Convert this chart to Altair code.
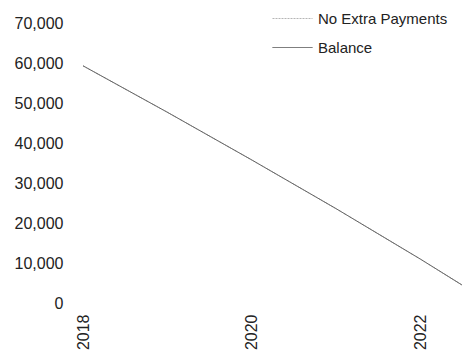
import altair as alt
import pandas as pd

dates = ["2018-01-01", "2019-01-01", "2020-01-01", "2021-01-01", "2022-01-01", "2022-07-01"]
no_extra_payments = [59300, 47700, 35800, 23600, 11000, 4500]
balance = [59300, 47700, 35800, 23600, 11000, 4500]
series_names = ["No Extra Payments", "Balance"]
y_ticks = [0, 10000, 20000, 30000, 40000, 50000, 60000, 70000]
x_tick_years = [2018, 2020, 2022]

rows = []
for name, vals in zip(series_names, [no_extra_payments, balance]):
    for d, v in zip(dates, vals):
        rows.append({"date": d, "value": v, "series": name})
df = pd.DataFrame(rows)

font = "Liberation Sans"

chart = alt.Chart(df).mark_line(strokeWidth=1, clip=True).encode(
    x=alt.X("date:T",
            scale=alt.Scale(domain=[alt.DateTime(year=2018, month=1, date=1),
                                    alt.DateTime(year=2022, month=7, date=1)]),
            axis=alt.Axis(title=None, values=[alt.DateTime(year=y, month=1, date=1) for y in x_tick_years],
                          format="%Y", labelAngle=-90, labelAlign="right", labelBaseline="middle",
                          domain=False, ticks=False, grid=False, labelPadding=11,
                          labelFont=font, labelFontSize=16, labelColor="#222")),
    y=alt.Y("value:Q",
            scale=alt.Scale(domain=[0, 70000]),
            axis=alt.Axis(title=None, values=y_ticks, format=",.0f", domain=False, ticks=False,
                          grid=False, labelPadding=20, labelFont=font, labelFontSize=16,
                          labelColor="#222")),
    color=alt.Color("series:N",
                    scale=alt.Scale(domain=series_names, range=["#b5b5b5", "#555555"]),
                    legend=alt.Legend(title=None, orient="none", legendX=189, legendY=-25,
                                      symbolType="stroke", symbolSize=1600, symbolStrokeWidth=1,
                                      labelFont=font, labelFontSize=15, labelColor="#222",
                                      rowPadding=-11, labelOffset=5)),
    strokeDash=alt.StrokeDash("series:N",
                              scale=alt.Scale(domain=series_names, range=[[2, 1], [1, 0]]),
                              legend=None),
    order=alt.Order("series:N", sort="descending"),
).properties(
    width=379, height=280,
    autosize=alt.AutoSizeParams(type="none"),
    padding={"left": 83, "top": 23, "right": 0, "bottom": 49},
).configure_view(stroke=None)

chart.save("out.html", embed_options={"renderer": "svg", "actions": False})
